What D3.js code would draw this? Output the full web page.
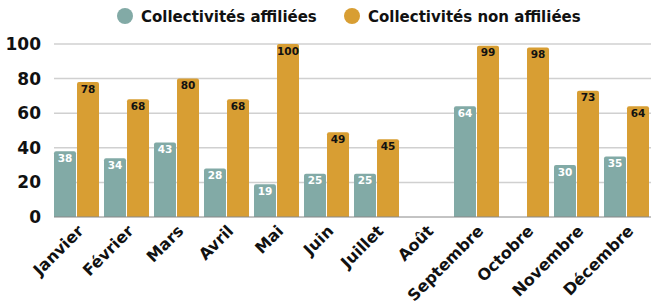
<!DOCTYPE html>
<html>
<head>
<meta charset="utf-8">
<script src="https://cdn.jsdelivr.net/npm/d3@7"></script>
<style>
  body { margin: 0; background: #fff; }
  svg text { font-family: "DejaVu Sans", sans-serif; font-weight: bold; }
</style>
</head>
<body>
<div id="chart"></div>
<script>
const width = 656;
const height = 304;

const months = ["Janvier", "Février", "Mars", "Avril", "Mai", "Juin", "Juillet", "Août", "Septembre", "Octobre", "Novembre", "Décembre"];
const seriesNames = ["Collectivités affiliées", "Collectivités non affiliées"];
const affiliees = [38, 34, 43, 28, 19, 25, 25, null, 64, null, 30, 35];
const nonAffiliees = [78, 68, 80, 68, 100, 49, 45, null, 99, 98, 73, 64];
const yTicks = [0, 20, 40, 60, 80, 100];
const colors = ["#82aaa6", "#d89e33"];
const labelColors = ["#fff", "#111"];

const margin = { top: 44, right: 5, bottom: 87, left: 54 };

const svg = d3.select("#chart")
    .append("svg")
    .attr("width", width)
    .attr("height", height);

const y = d3.scaleLinear()
    .domain([0, 100])
    .range([height - margin.bottom, margin.top]);

const x0 = d3.scaleBand()
    .domain(months)
    .range([margin.left, 649])
    .paddingInner(0.1)
    .paddingOuter(0);

const x1 = d3.scaleBand()
    .domain([0, 1])
    .range([0, x0.bandwidth()])
    .paddingInner(0.045);

// grid lines
svg.append("g")
    .selectAll("line")
    .data(yTicks.filter(d => d > 0))
    .enter()
    .append("line")
    .attr("x1", margin.left)
    .attr("x2", 651)
    .attr("y1", d => y(d))
    .attr("y2", d => y(d))
    .attr("stroke", "#d0d0d0")
    .attr("stroke-width", 1.5);

// y axis labels
const yAxis = svg.append("g")
    .attr("transform", `translate(${margin.left},0)`)
    .call(d3.axisLeft(y).tickValues(yTicks).tickSize(0).tickPadding(13));
yAxis.select(".domain").remove();
yAxis.selectAll("text")
    .attr("font-size", 17)
    .attr("fill", "#111")
    .attr("font-family", null);

// bars
const rows = months.map((m, i) => ({ month: m, values: [affiliees[i], nonAffiliees[i]] }));

const group = svg.append("g")
    .selectAll("g")
    .data(rows)
    .enter()
    .append("g")
    .attr("transform", d => `translate(${x0(d.month)},0)`);

const cells = group.selectAll("g")
    .data(d => d.values.map((v, k) => ({ k, v })).filter(c => c.v != null))
    .enter()
    .append("g");

cells.append("path")
    .attr("d", c => {
        const bx = x1(c.k), bw = x1.bandwidth();
        const top = y(c.v), bottom = y(0), r = 2;
        return `M${bx},${bottom}V${top + r}Q${bx},${top} ${bx + r},${top}H${bx + bw - r}Q${bx + bw},${top} ${bx + bw},${top + r}V${bottom}Z`;
    })
    .attr("fill", c => colors[c.k]);

cells.append("text")
    .attr("x", c => x1(c.k) + x1.bandwidth() / 2)
    .attr("y", c => y(c.v) + 10.5)
    .attr("text-anchor", "middle")
    .attr("font-size", 10.5)
    .attr("fill", c => labelColors[c.k])
    .text(c => c.v);

// baseline
svg.append("line")
    .attr("x1", margin.left)
    .attr("x2", 651)
    .attr("y1", y(0))
    .attr("y2", y(0))
    .attr("stroke", "#888")
    .attr("stroke-width", 1);

// month labels
svg.append("g")
    .selectAll("text")
    .data(months)
    .enter()
    .append("text")
    .attr("transform", d => `translate(${x0(d) + x0.bandwidth() / 2 + 8},${y(0) + 15}) rotate(-45)`)
    .attr("text-anchor", "end")
    .attr("font-size", 16)
    .attr("fill", "#111")
    .text(d => d);

// legend
const legendX = [125, 352];
const legend = svg.append("g")
    .selectAll("g")
    .data(seriesNames)
    .enter()
    .append("g")
    .attr("transform", (d, i) => `translate(${legendX[i]},16)`);

legend.append("circle")
    .attr("r", 8)
    .attr("fill", (d, i) => colors[i]);

legend.append("text")
    .attr("x", 16)
    .attr("y", 5.5)
    .attr("font-size", 15)
    .attr("fill", "#111")
    .text(d => d);
</script>
</body>
</html>
